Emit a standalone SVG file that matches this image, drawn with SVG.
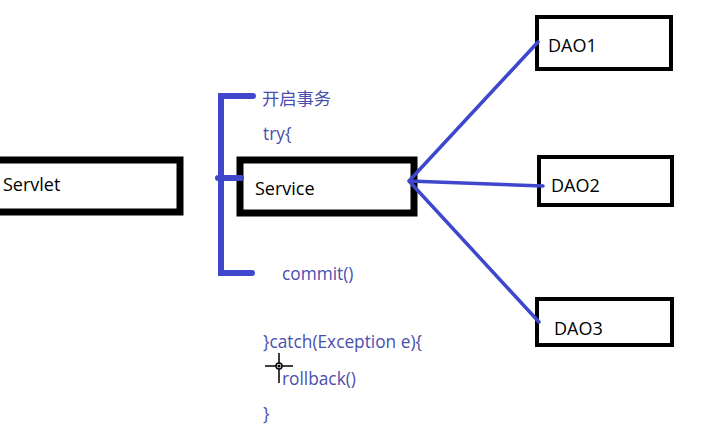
<svg xmlns="http://www.w3.org/2000/svg" width="710" height="438" viewBox="0 0 710 438">
<style>
.box{fill:#fff;stroke:#000}
.lbl{font-family:"Open Sans","Noto Sans",sans-serif;font-size:18px;fill:#000}
.code{font-family:"Open Sans","Noto Sans","Noto Sans CJK SC",sans-serif;font-size:17.3px;fill:#4a4fae}
.blue{stroke:#3f48cc;fill:none;stroke-linecap:round}
</style>
<rect width="710" height="438" fill="#fff"/>
<g id="servlet">
<rect class="box" x="-10" y="160" width="190" height="52" stroke-width="7"/>
<text class="lbl" x="3" y="191">Servlet</text>
</g>
<g id="service">
<rect class="box" x="240" y="160" width="174" height="53" stroke-width="7"/>
<text class="lbl" x="255" y="195">Service</text>
</g>
<g id="dao1">
<rect class="box" x="537" y="17" width="134" height="52" stroke-width="4"/>
<text class="lbl" x="548" y="52">DAO1</text>
</g>
<g id="dao2">
<rect class="box" x="539" y="157" width="133" height="48" stroke-width="4"/>
<text class="lbl" x="551" y="192">DAO2</text>
</g>
<g id="dao3">
<rect class="box" x="537" y="299" width="135" height="46" stroke-width="4"/>
<text class="lbl" x="554" y="335">DAO3</text>
</g>
<g id="connectors">
<path class="blue" stroke-width="6" d="M253 96H221V273H252M218 178H241"/>
<path class="blue" stroke-width="3.5" d="M409 181L538 42M409 181L543 186M409 181L539 322"/>
</g>
<g id="code">
<text class="code" x="262" y="105" font-family="'Noto Sans CJK SC',sans-serif">开启事务</text>
<text class="code" x="263" y="140">try{</text>
<text class="code" x="282" y="280">commit()</text>
<text class="code" x="263" y="348">}catch(Exception e){</text>
<text class="code" x="282" y="385">rollback()</text>
<text class="code" x="263" y="420">}</text>
</g>
<g id="cursor" stroke="#000" stroke-width="1.5" fill="none">
<path d="M279 353V363M279 369V383M265 366H276M282 366H293"/>
<circle cx="279" cy="366" r="3"/>
<circle cx="279" cy="366" r="0.8" fill="#000"/>
</g>
</svg>
